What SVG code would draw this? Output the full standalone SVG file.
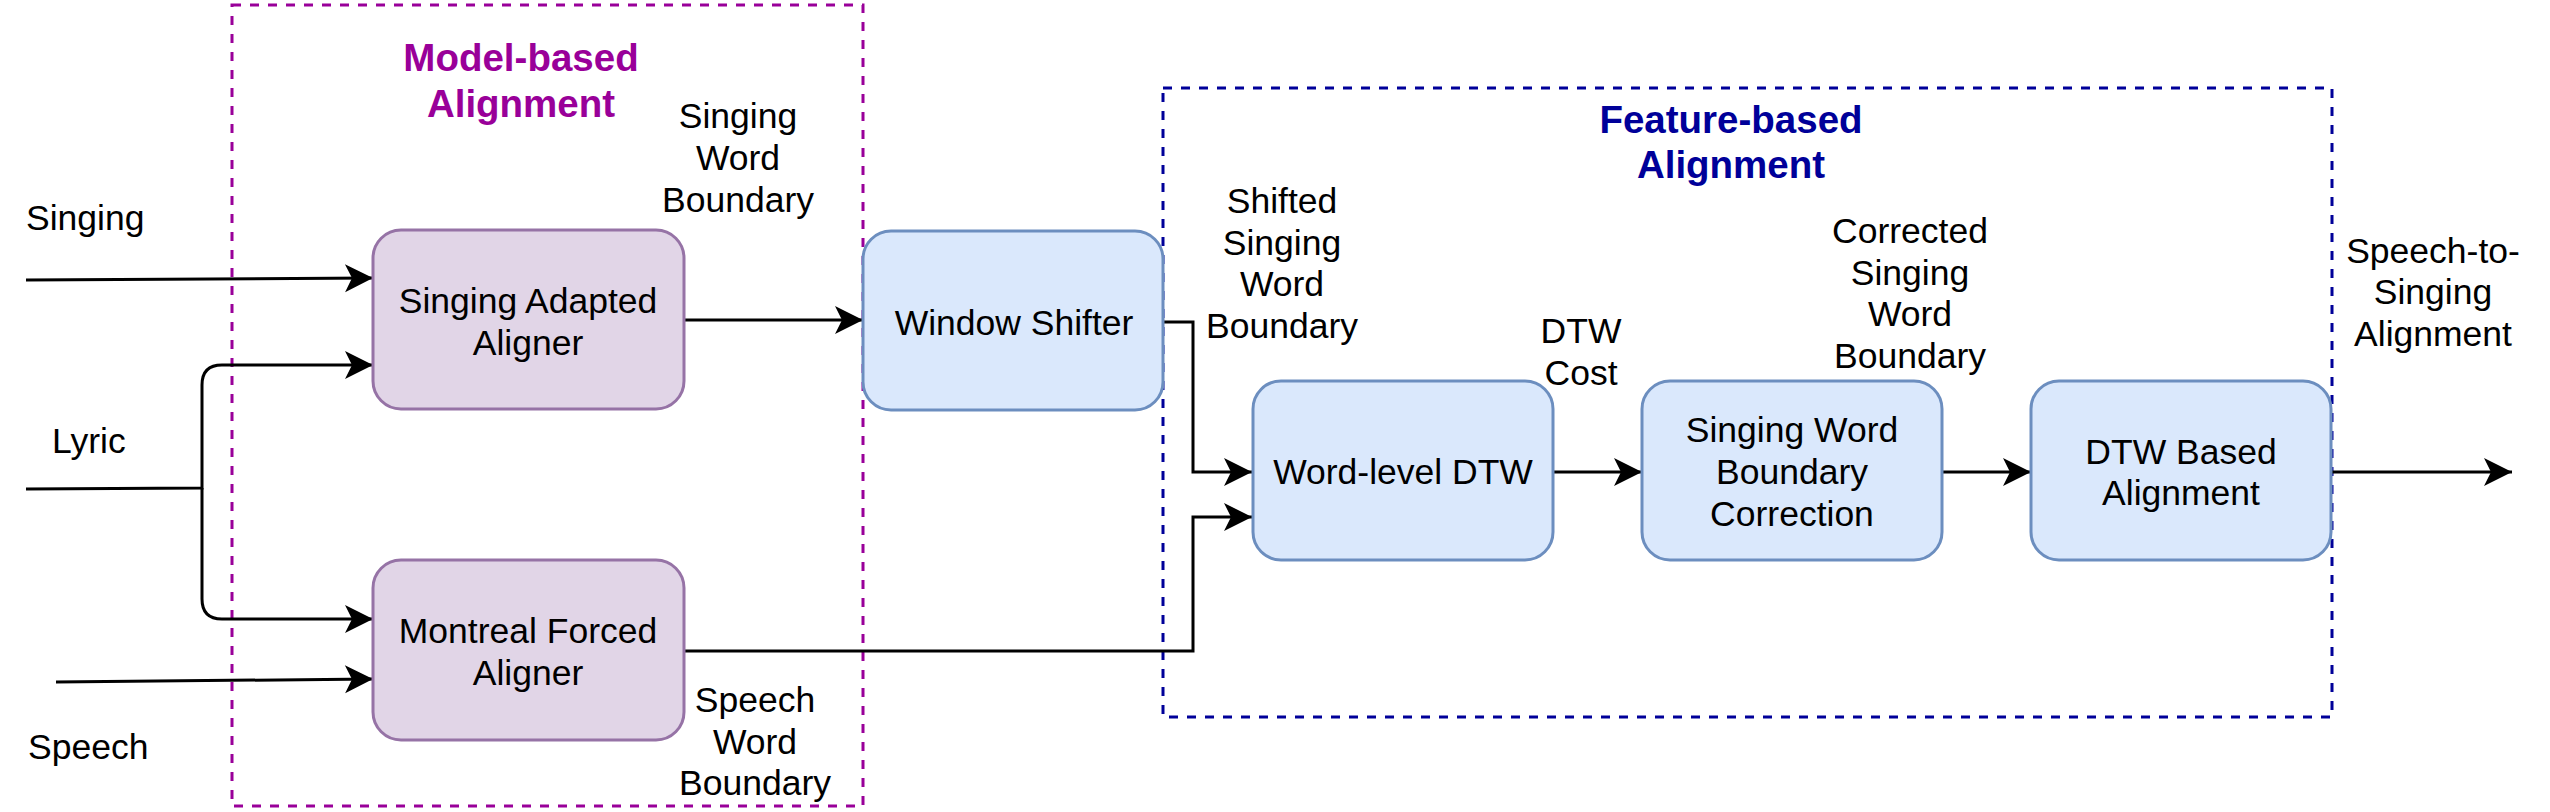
<svg xmlns="http://www.w3.org/2000/svg" width="2550" height="812" viewBox="0 0 2550 812">
  <style>
    .lbl { font-family: "Liberation Sans", Arial, Helvetica, sans-serif; font-size: 35.5px; fill: #000000; text-anchor: middle; }
    .lbl-l { font-family: "Liberation Sans", Arial, Helvetica, sans-serif; font-size: 35.5px; fill: #000000; text-anchor: start; }
    .title { font-family: "Liberation Sans", Arial, Helvetica, sans-serif; font-size: 38.5px; font-weight: bold; text-anchor: middle; }
    .purple-node { fill: #e1d5e7; stroke: #9673a6; stroke-width: 3; }
    .blue-node { fill: #dae8fc; stroke: #6c8ebf; stroke-width: 3; }
    .edge { fill: none; stroke: #000000; stroke-width: 3; }
    .group { fill: none; stroke-width: 3; stroke-dasharray: 9 9; }
  </style>
  <defs>
    <marker id="arrow" markerUnits="userSpaceOnUse" markerWidth="32" markerHeight="32" viewBox="-30 -16 32 32" refX="0" refY="0" orient="auto">
      <path d="M0,0 L-28,-14 L-21,0 L-28,14 Z" fill="#000000" stroke="none"/>
    </marker>
  </defs>
  <rect width="2550" height="812" fill="#ffffff"/>

  <g id="group-model-based">
    <rect class="group" x="232" y="5" width="631" height="801" stroke="#990099"/>
    <text class="title" fill="#990099" x="521" y="71">Model-based</text>
    <text class="title" fill="#990099" x="521" y="117">Alignment</text>
  </g>

  <g id="group-feature-based">
    <rect class="group" x="1163" y="88" width="1169" height="629" stroke="#000099"/>
    <text class="title" fill="#000099" x="1731" y="133">Feature-based</text>
    <text class="title" fill="#000099" x="1731" y="178">Alignment</text>
  </g>

  <g id="connectors">
    <path class="edge" d="M26,280 L373,278" marker-end="url(#arrow)"/>
    <path class="edge" d="M26,489 L202,488 L202,385 Q202,365 222,365 L373,365" marker-end="url(#arrow)"/>
    <path class="edge" d="M202,488 L202,599 Q202,619 222,619 L373,619" marker-end="url(#arrow)"/>
    <path class="edge" d="M56,682 L373,679" marker-end="url(#arrow)"/>
    <path class="edge" d="M685,320 L863,320" marker-end="url(#arrow)"/>
    <path class="edge" d="M1163,322 L1193,322 L1193,472 L1252,472" marker-end="url(#arrow)"/>
    <path class="edge" d="M685,651 L1193,651 L1193,517 L1252,517" marker-end="url(#arrow)"/>
    <path class="edge" d="M1553,472 L1642,472" marker-end="url(#arrow)"/>
    <path class="edge" d="M1942,472 L2031,472" marker-end="url(#arrow)"/>
    <path class="edge" d="M2331,472 L2512,472" marker-end="url(#arrow)"/>
  </g>

  <g id="edge-labels">
    <text class="lbl-l" x="26" y="230">Singing</text>
    <text class="lbl-l" x="52" y="453">Lyric</text>
    <text class="lbl-l" x="28" y="759">Speech</text>
    <text class="lbl" x="738"><tspan x="738" y="128">Singing</tspan><tspan x="738" y="170">Word</tspan><tspan x="738" y="212">Boundary</tspan></text>
    <text class="lbl" x="755"><tspan x="755" y="712">Speech</tspan><tspan x="755" y="754">Word</tspan><tspan x="755" y="795">Boundary</tspan></text>
    <text class="lbl" x="1282"><tspan x="1282" y="213">Shifted</tspan><tspan x="1282" y="255">Singing</tspan><tspan x="1282" y="296">Word</tspan><tspan x="1282" y="338">Boundary</tspan></text>
    <text class="lbl" x="1581"><tspan x="1581" y="343">DTW</tspan><tspan x="1581" y="385">Cost</tspan></text>
    <text class="lbl" x="1910"><tspan x="1910" y="243">Corrected</tspan><tspan x="1910" y="285">Singing</tspan><tspan x="1910" y="326">Word</tspan><tspan x="1910" y="368">Boundary</tspan></text>
    <text class="lbl" x="2433"><tspan x="2433" y="263">Speech-to-</tspan><tspan x="2433" y="304">Singing</tspan><tspan x="2433" y="346">Alignment</tspan></text>
  </g>

  <g id="node-singing-adapted-aligner">
    <rect class="purple-node" x="373" y="230" width="311" height="179" rx="28" ry="28"/>
    <text class="lbl"><tspan x="528" y="313">Singing Adapted</tspan><tspan x="528" y="355">Aligner</tspan></text>
  </g>

  <g id="node-montreal-forced-aligner">
    <rect class="purple-node" x="373" y="560" width="311" height="180" rx="28" ry="28"/>
    <text class="lbl"><tspan x="528" y="643">Montreal Forced</tspan><tspan x="528" y="685">Aligner</tspan></text>
  </g>

  <g id="node-window-shifter">
    <rect class="blue-node" x="863" y="231" width="300" height="179" rx="28" ry="28"/>
    <text class="lbl" x="1014" y="335">Window Shifter</text>
  </g>

  <g id="node-word-level-dtw">
    <rect class="blue-node" x="1253" y="381" width="300" height="179" rx="28" ry="28"/>
    <text class="lbl" x="1403" y="484">Word-level DTW</text>
  </g>

  <g id="node-singing-word-boundary-correction">
    <rect class="blue-node" x="1642" y="381" width="300" height="179" rx="28" ry="28"/>
    <text class="lbl"><tspan x="1792" y="442">Singing Word</tspan><tspan x="1792" y="484">Boundary</tspan><tspan x="1792" y="526">Correction</tspan></text>
  </g>

  <g id="node-dtw-based-alignment">
    <rect class="blue-node" x="2031" y="381" width="300" height="179" rx="28" ry="28"/>
    <text class="lbl"><tspan x="2181" y="464">DTW Based</tspan><tspan x="2181" y="505">Alignment</tspan></text>
  </g>
</svg>
